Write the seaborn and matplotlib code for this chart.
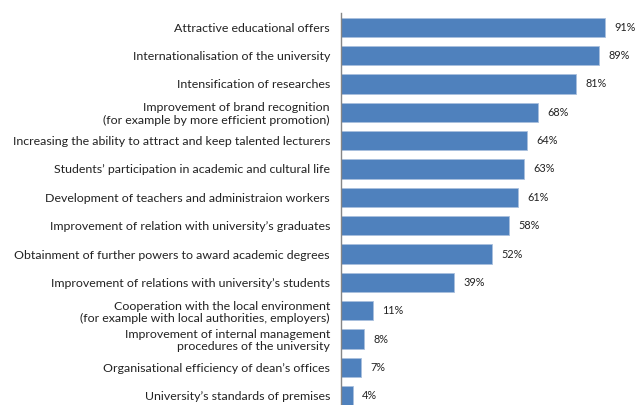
import matplotlib
matplotlib.use("Agg")
import matplotlib.pyplot as plt
import seaborn as sns
import pandas as pd
import numpy as np

categories = [
    "Attractive educational offers",
    "Internationalisation of the university",
    "Intensification of researches",
    "Improvement of brand recognition\n(for example by more efficient promotion)",
    "Increasing the ability to attract and keep talented lecturers",
    "Students\u2019 participation in academic and cultural life",
    "Development of teachers and administraion workers",
    "Improvement of relation with university\u2019s graduates",
    "Obtainment of further powers to award academic degrees",
    "Improvement of relations with university\u2019s students",
    "Cooperation with the local environment\n(for example with local authorities, employers)",
    "Improvement of internal management\nprocedures of the university",
    "Organisational efficiency of dean\u2019s offices",
    "University\u2019s standards of premises",
]
values = [91, 89, 81, 68, 64, 63, 61, 58, 52, 39, 11, 8, 7, 4]
value_labels = [f"{v}%" for v in values]

df = pd.DataFrame({"category": categories, "value": values})

sns.set_theme(style="white")
plt.rcParams["font.family"] = ["Lato", "DejaVu Sans"]

fig = plt.figure(figsize=(6.36, 4.05), dpi=100)
ax = fig.add_axes([341/636, 1 - 410/405, 290/636, (410 - 13)/405])

sns.barplot(data=df, x="value", y="category", orient="h", color="#4F81BD",
            saturation=1, width=0.68, edgecolor="#A9C0DE", linewidth=0.6, ax=ax)

ax.set_xlim(0, 100)
ax.set_ylim(len(categories) - 0.5, -0.5)
ax.set_xlabel("")
ax.set_ylabel("")
ax.set_xticks([])

for i, (v, lab) in enumerate(zip(values, value_labels)):
    ax.text(v + 3.3, i, lab, va="center", ha="left", fontsize=7.8, color="#222222")

ax.tick_params(axis="y", which="major", length=0, pad=8, labelsize=8.9, labelcolor="#222222")
ax.set_yticks(np.arange(-0.5, len(categories), 1.0), minor=True)
ax.tick_params(axis="y", which="minor", length=4, width=0.8, color="#868686", direction="out")
for lbl in ax.get_yticklabels():
    lbl.set_multialignment("right")
    lbl.set_linespacing(1.15)

for s in ["top", "right", "bottom"]:
    ax.spines[s].set_visible(False)
ax.spines["left"].set_color("#868686")
ax.spines["left"].set_linewidth(1.0)

fig.savefig("out.png", dpi=100)
